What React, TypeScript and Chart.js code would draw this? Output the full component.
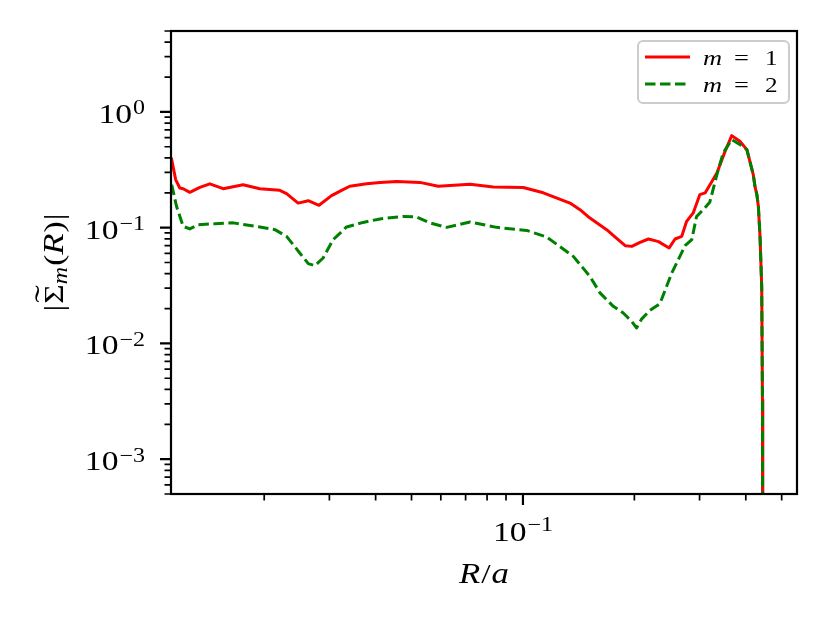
import React, { useEffect, useRef } from "react";
import { Chart, registerables } from "chart.js";

Chart.register(...registerables);

// values: radius R/a and |Sigma_m(R)|
const radiusM1 = [
  0.01122, 0.01153, 0.01183, 0.01208, 0.01259, 0.0134, 0.01426, 0.01549, 0.01754, 0.01946,
  0.02204, 0.02298, 0.0247, 0.0263, 0.02812, 0.03041, 0.03236, 0.03406, 0.03784, 0.04111,
  0.0456, 0.05269, 0.05902, 0.07194, 0.08314, 0.1002, 0.1135, 0.134, 0.1426, 0.1517,
  0.1683, 0.1782, 0.1889, 0.1968, 0.2072, 0.2183, 0.2324, 0.2483, 0.2576, 0.2685,
  0.2768, 0.2884, 0.3006, 0.3105, 0.3342, 0.3516, 0.3665, 0.3855, 0.4027, 0.419,
  0.4236, 0.4285, 0.4325, 0.437, 0.4416, 0.4436, 0.4446,
];
const sigmaM1 = [
  0.403, 0.26, 0.22, 0.217, 0.202, 0.223, 0.239, 0.217, 0.235, 0.217,
  0.21, 0.197, 0.163, 0.171, 0.156, 0.189, 0.21, 0.228, 0.239, 0.246,
  0.25, 0.246, 0.228, 0.237, 0.225, 0.222, 0.2, 0.163, 0.143, 0.121,
  0.0961, 0.082, 0.0699, 0.0689, 0.0746, 0.0798, 0.0757, 0.0668, 0.0798, 0.0841,
  0.1134, 0.134, 0.193, 0.1995, 0.297, 0.456, 0.624, 0.557, 0.472, 0.287,
  0.226, 0.193, 0.153, 0.0836, 0.0311, 0.00326, 0.00001,
];
const radiusM2 = [
  0.01125, 0.01159, 0.01208, 0.01259, 0.01325, 0.01472, 0.01648, 0.01946, 0.02138, 0.02298,
  0.02495, 0.0263, 0.02741, 0.02885, 0.03071, 0.03338, 0.037, 0.04111, 0.04748, 0.05161,
  0.05606, 0.06222, 0.07194, 0.08491, 0.1023, 0.1159, 0.1368, 0.1517, 0.1615, 0.1754,
  0.1866, 0.1968, 0.2027, 0.2094, 0.2204, 0.2344, 0.2524, 0.2742, 0.2858, 0.2945,
  0.3069, 0.3196, 0.3342, 0.3475, 0.3665, 0.3899, 0.4027, 0.419, 0.4236, 0.4285,
  0.4325, 0.437, 0.4416, 0.4436, 0.4446,
];
const sigmaM2 = [
  0.235, 0.153, 0.1026, 0.0975, 0.106, 0.108, 0.11, 0.1014, 0.0961, 0.0841,
  0.0604, 0.0489, 0.047, 0.0547, 0.0788, 0.1014, 0.111, 0.119, 0.125, 0.1238,
  0.11, 0.1006, 0.112, 0.1006, 0.0947, 0.0831, 0.0565, 0.0379, 0.0273, 0.0209,
  0.0183, 0.0155, 0.0136, 0.0163, 0.0193, 0.022, 0.0406, 0.0699, 0.0788, 0.125,
  0.143, 0.1655, 0.287, 0.442, 0.576, 0.511, 0.472, 0.287, 0.226, 0.193,
  0.153, 0.0836, 0.0311, 0.00326, 0.00001,
];

const X_MIN = 0.0112;
const X_MAX = 0.55;
const Y_MIN = 5e-4;
const Y_MAX = 5;

const xMajorTicks = [0.1];
const xTickExponents = ["\u22121"];
const yMajorTicks = [1e-3, 1e-2, 1e-1, 1];
const yTickExponents = ["\u22123", "\u22122", "\u22121", "0"];
const legendValues = ["1", "2"];

const RED = "#ff0000";
const GREEN = "#008000";
const SERIF = '"Liberation Serif", "DejaVu Serif", serif';
const HS = 1.2; // widen glyphs a bit, the original math font is wider
const LINE_W = 3;
const DASH = [10.5, 4.5];

// 2..9 x 10^n inside the range
const minorTicks = (min: number, max: number) => {
  const out: number[] = [];
  for (let e = Math.floor(Math.log10(min)); e <= Math.ceil(Math.log10(max)); e++) {
    for (let k = 2; k <= 9; k++) {
      const v = k * Math.pow(10, e);
      if (v >= min && v <= max) out.push(v);
    }
  }
  return out;
};

const textW = (ctx: CanvasRenderingContext2D, s: string, font: string) => {
  ctx.font = font;
  return ctx.measureText(s).width * HS;
};

const txt = (ctx: CanvasRenderingContext2D, s: string, x: number, y: number, font: string) => {
  ctx.save();
  ctx.font = font;
  ctx.textAlign = "left";
  ctx.textBaseline = "alphabetic";
  ctx.translate(x, y);
  ctx.scale(HS, 1);
  ctx.fillText(s, 0, 0);
  ctx.restore();
};

type Piece = { t: string; f: string; dy?: number; gap?: number; tilde?: boolean };

const drawPieces = (ctx: CanvasRenderingContext2D, pieces: Piece[], cx: number, y: number) => {
  let total = 0;
  const widths = pieces.map((p) => {
    const w = textW(ctx, p.t, p.f) + (p.gap || 0);
    total += w;
    return w;
  });
  let x = cx - total / 2;
  pieces.forEach((p, i) => {
    txt(ctx, p.t, x, y + (p.dy || 0), p.f);
    if (p.tilde) {
      ctx.save();
      ctx.font = p.f;
      ctx.translate(x + (widths[i] - (p.gap || 0)) / 2, y - 9);
      ctx.scale(1.9, 1);
      ctx.textAlign = "center";
      ctx.fillText("\u02dc", 0, 0);
      ctx.restore();
    }
    x += widths[i];
  });
};

const axesPlugin = {
  id: "mplAxes",
  afterDraw(chart: any) {
    const { ctx, chartArea: ca, scales } = chart;
    const xs = scales.x;
    const ys = scales.y;
    ctx.save();
    ctx.strokeStyle = "#000";
    ctx.fillStyle = "#000";
    ctx.lineCap = "butt";

    // minor ticks
    ctx.lineWidth = 1.7;
    ctx.beginPath();
    minorTicks(X_MIN, X_MAX).forEach((v) => {
      const px = xs.getPixelForValue(v);
      ctx.moveTo(px, ca.bottom);
      ctx.lineTo(px, ca.bottom + 6.5);
    });
    minorTicks(Y_MIN, Y_MAX).forEach((v) => {
      const py = ys.getPixelForValue(v);
      ctx.moveTo(ca.left, py);
      ctx.lineTo(ca.left - 6.5, py);
    });
    ctx.stroke();

    // major ticks
    ctx.lineWidth = 2.2;
    ctx.beginPath();
    xMajorTicks.forEach((v) => {
      const px = xs.getPixelForValue(v);
      ctx.moveTo(px, ca.bottom);
      ctx.lineTo(px, ca.bottom + 11);
    });
    yMajorTicks.forEach((v) => {
      const py = ys.getPixelForValue(v);
      ctx.moveTo(ca.left, py);
      ctx.lineTo(ca.left - 11, py);
    });
    ctx.stroke();

    // frame
    ctx.lineWidth = 2.2;
    ctx.strokeRect(ca.left, ca.top, ca.right - ca.left, ca.bottom - ca.top);

    const base = `28px ${SERIF}`;
    const sup = `20px ${SERIF}`;
    const ital = `italic 29px ${SERIF}`;

    // y tick labels
    yMajorTicks.forEach((v, i) => {
      const py = ys.getPixelForValue(v);
      const xr = ca.left - 26;
      const we = textW(ctx, yTickExponents[i], sup);
      const wb = textW(ctx, "10", base);
      txt(ctx, yTickExponents[i], xr - we, py + 2.5, sup);
      txt(ctx, "10", xr - we - 1 - wb, py + 11, base);
    });

    // x tick labels
    xMajorTicks.forEach((v, i) => {
      const px = xs.getPixelForValue(v);
      const wb = textW(ctx, "10", base);
      const we = textW(ctx, xTickExponents[i], sup);
      const x0 = px - (wb + we + 1) / 2;
      txt(ctx, "10", x0, ca.bottom + 47, base);
      txt(ctx, xTickExponents[i], x0 + wb + 1, ca.bottom + 37, sup);
    });

    // x title R/a
    drawPieces(
      ctx,
      [
        { t: "R", f: ital, gap: 1 },
        { t: "/", f: base, gap: 1 },
        { t: "a", f: ital },
      ],
      (ca.left + ca.right) / 2,
      ca.bottom + 89
    );

    // y title |Σ̃_m(R)|
    ctx.save();
    ctx.translate(ca.left - 108, (ca.top + ca.bottom) / 2);
    ctx.rotate(-Math.PI / 2);
    drawPieces(
      ctx,
      [
        { t: "|", f: base, gap: 1 },
        { t: "\u03a3", f: base, tilde: true },
        { t: "m", f: `italic 20px ${SERIF}`, dy: 4, gap: 1 },
        { t: "(", f: base },
        { t: "R", f: ital, gap: 1 },
        { t: ")", f: base, gap: 1 },
        { t: "|", f: base },
      ],
      0,
      0
    );
    ctx.restore();

    // legend
    const lx = ca.right - 159;
    const ly = ca.top + 10;
    ctx.beginPath();
    ctx.roundRect(lx, ly, 151, 62, 5);
    ctx.fillStyle = "rgba(255,255,255,0.8)";
    ctx.fill();
    ctx.strokeStyle = "#cccccc";
    ctx.lineWidth = 2;
    ctx.stroke();

    const colors = [RED, GREEN];
    legendValues.forEach((m, i) => {
      const yy = ly + 16 + i * 27;
      ctx.beginPath();
      ctx.strokeStyle = colors[i];
      ctx.lineWidth = LINE_W;
      ctx.setLineDash(i === 1 ? DASH : []);
      ctx.moveTo(lx + 7, yy);
      ctx.lineTo(lx + 52, yy);
      ctx.stroke();
      ctx.setLineDash([]);
      ctx.fillStyle = "#000";
      txt(ctx, "m", lx + 65, yy + 8, `italic 22px ${SERIF}`);
      txt(ctx, "=", lx + 96, yy + 8, `22px ${SERIF}`);
      txt(ctx, m, lx + 127, yy + 8, `21px ${SERIF}`);
    });

    ctx.restore();
  },
};

const App = () => {
  const chartRef = useRef<HTMLCanvasElement | null>(null);

  useEffect(() => {
    document.body.style.margin = "0";
    if (!chartRef.current) return;

    const myChart = new Chart(chartRef.current, {
      type: "line",
      data: {
        datasets: [
          {
            label: "m = 1",
            data: radiusM1.map((r, i) => ({ x: r, y: sigmaM1[i] })),
            borderColor: RED,
            borderWidth: LINE_W,
            borderJoinStyle: "round",
            pointRadius: 0,
            tension: 0,
            order: 1,
          },
          {
            label: "m = 2",
            data: radiusM2.map((r, i) => ({ x: r, y: sigmaM2[i] })),
            borderColor: GREEN,
            borderWidth: LINE_W,
            borderDash: DASH,
            borderJoinStyle: "round",
            pointRadius: 0,
            tension: 0,
            order: 0,
          },
        ],
      },
      options: {
        responsive: false,
        animation: false,
        events: [],
        layout: { padding: { left: 171, top: 31, right: 33, bottom: 128 } },
        scales: {
          x: { type: "logarithmic", min: X_MIN, max: X_MAX, display: false },
          y: { type: "logarithmic", min: Y_MIN, max: Y_MAX, display: false },
        },
        plugins: {
          legend: { display: false },
          tooltip: { enabled: false },
        },
      } as any,
      plugins: [axesPlugin],
    });

    return () => {
      myChart.destroy();
    };
  }, []);

  return <canvas ref={chartRef} width={830} height={622}></canvas>;
};

export default App;
